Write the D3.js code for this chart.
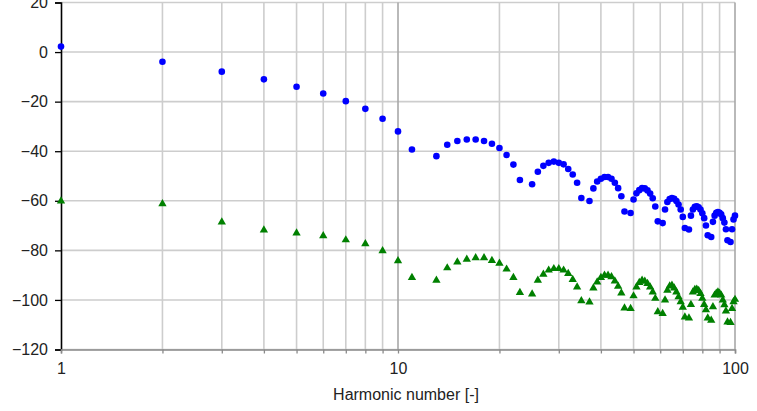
<!DOCTYPE html>
<html>
<head>
<meta charset="utf-8">
<script src="https://cdn.jsdelivr.net/npm/d3@7"></script>
<style>
  html, body { margin: 0; padding: 0; background: #fff; }
  svg { display: block; font-family: "Liberation Sans", Arial, sans-serif; }
</style>
</head>
<body>
<svg id="chart" width="757" height="411"></svg>
<script>
// Harmonic spectrum: two measured series, levels in dB, harmonics 1..100 (log axis).
const harmonics = d3.range(1, 101);

// Upper series (blue circles); null = harmonic not present
const seriesBlue = [
  2.2, -3.9, -7.9, -11.0, -14.0, -16.7, -19.8, -22.9, -26.9, -32.0,
  -39.3, null, -42.0, -37.4, -35.9, -35.3, -35.3, -35.9, -37.0, -38.7,
  -41.5, -45.4, -51.6, null, -53.3, -48.3, -45.9, -44.7, -44.2, -44.7,
  -45.3, -47.2, -49.4, -52.7, -58.9, null, -60.1, -55.0, -52.2, -51.1,
  -50.4, -50.4, -51.1, -52.7, -54.9, -58.2, -64.3, null, -64.9, -59.5,
  -57.0, -55.7, -54.9, -55.0, -55.8, -57.1, -59.0, -62.3, -68.3, null,
  -69.0, -63.5, -60.5, -59.3, -58.9, -59.2, -60.1, -61.5, -63.5, -66.5,
  -71.0, null, -71.6, -66.0, -63.5, -62.4, -62.2, -62.6, -63.5, -65.0,
  -67.0, -70.0, -73.9, null, -74.6, -68.5, -66.0, -64.8, -64.5, -64.8,
  -65.5, -67.0, -68.8, -71.5, -75.9, null, -76.6, -71.5, -67.5, -66.0
];

// Lower series (green triangles)
const seriesGreen = [
  -60.1, -61.2, -68.6, -71.8, -73.0, -74.1, -75.8, -77.4, -80.2, -84.2,
  -91.0, null, -92.1, -87.1, -84.7, -83.6, -83.0, -83.0, -84.1, -85.2,
  -87.6, -91.0, -97.0, null, -97.6, -92.1, -89.7, -88.0, -87.4, -87.4,
  -88.0, -89.4, -91.8, -94.8, -100.4, null, -100.9, -95.2, -92.8, -91.0,
  -90.1, -90.1, -90.7, -92.4, -94.5, -97.2, -103.3, null, -103.5, -98.4,
  -94.8, -93.0, -92.1, -92.5, -93.4, -94.8, -96.8, -99.4, -104.8, null,
  -105.5, -100.1, -96.1, -94.4, -94.1, -95.2, -96.8, -98.8, -100.8, -103.0,
  -106.9, null, -107.3, -101.9, -96.8, -95.8, -95.7, -96.2, -97.4, -99.4,
  -101.9, -104.0, -107.3, null, -108.2, -102.8, -98.1, -97.3, -96.8, -97.3,
  -98.1, -100.1, -102.0, -104.5, -108.9, null, -109.1, -103.5, -100.8, -99.8
];

const yTicks = [20, 0, -20, -40, -60, -80, -100, -120];
const xMajorTicks = [1, 10, 100];
const xMinorTicks = [2, 3, 4, 5, 6, 7, 8, 9, 20, 30, 40, 50, 60, 70, 80, 90];
const xTitle = "Harmonic number [-]";

const svg = d3.select("#chart");
const plotLeft = 61, plotRight = 735, plotTop = 2.5, plotBottom = 349.5;

const x = d3.scaleLog().domain([1, 100]).range([plotLeft, plotRight]);
const y = d3.scaleLinear().domain([-120, 20]).range([plotBottom, plotTop]);

// Gridlines
const grid = svg.append("g");
grid.selectAll("line.h").data(yTicks).join("line")
  .attr("x1", plotLeft).attr("x2", plotRight)
  .attr("y1", d => y(d)).attr("y2", d => y(d))
  .attr("stroke", "#cdcdcd").attr("stroke-width", 1.6);
grid.selectAll("line.vmin").data(xMinorTicks).join("line")
  .attr("x1", d => x(d)).attr("x2", d => x(d))
  .attr("y1", plotTop).attr("y2", plotBottom)
  .attr("stroke", "#cdcdcd").attr("stroke-width", 1.6);
grid.selectAll("line.vmaj").data([10, 100]).join("line")
  .attr("x1", d => x(d)).attr("x2", d => x(d))
  .attr("y1", plotTop).attr("y2", plotBottom)
  .attr("stroke", "#a8a8a8").attr("stroke-width", 1.6);

// Y axis
const yAxis = svg.append("g")
  .attr("transform", `translate(${plotLeft},0)`)
  .call(d3.axisLeft(y).tickValues(yTicks).tickSize(6).tickPadding(7).tickFormat(d3.format("d")));
yAxis.select(".domain").attr("stroke", "#000").attr("stroke-width", 1.6);
yAxis.selectAll(".tick line").attr("stroke", "#000").attr("stroke-width", 1.3);
yAxis.selectAll(".tick text").attr("fill", "#222").attr("font-size", 16)
  .attr("font-family", "'Liberation Sans', Arial, sans-serif");

// X axis
const xAxis = svg.append("g")
  .attr("transform", `translate(0,${plotBottom})`)
  .call(d3.axisBottom(x).tickValues(xMajorTicks.concat(xMinorTicks)).tickSize(4).tickPadding(9)
    .tickFormat(d => xMajorTicks.includes(d) ? d3.format("d")(d) : ""));
xAxis.select(".domain").attr("stroke", "#8a8a8a").attr("stroke-width", 1.6);
xAxis.selectAll(".tick line").attr("stroke", "#8a8a8a").attr("stroke-width", 1.3);
xAxis.selectAll(".tick text").attr("fill", "#222").attr("font-size", 16)
  .attr("font-family", "'Liberation Sans', Arial, sans-serif");

svg.append("text")
  .attr("x", 406).attr("y", 400)
  .attr("text-anchor", "middle")
  .attr("font-size", 16).attr("fill", "#222")
  .text(xTitle);

// Markers
const blueData = harmonics.map((h, i) => ({ h, v: seriesBlue[i] })).filter(d => d.v !== null);
const greenData = harmonics.map((h, i) => ({ h, v: seriesGreen[i] })).filter(d => d.v !== null);

svg.append("g").selectAll("circle").data(blueData).join("circle")
  .attr("cx", d => x(d.h)).attr("cy", d => y(d.v))
  .attr("r", 3.3).attr("fill", "#0000ff");

const tri = d3.symbol().type(d3.symbolTriangle).size(30);
svg.append("g").selectAll("path").data(greenData).join("path")
  .attr("transform", d => `translate(${x(d.h)},${y(d.v)})`)
  .attr("d", tri).attr("fill", "#008000");
</script>
</body>
</html>
